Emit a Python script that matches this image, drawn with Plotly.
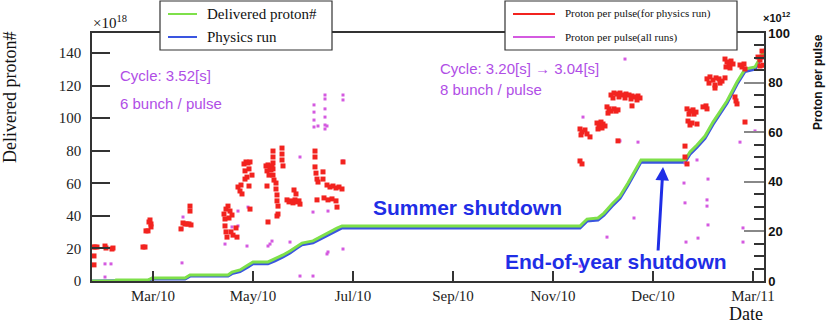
import plotly.graph_objects as go

# ---------------- data ----------------
tick_days = [0, 60, 120, 180, 240, 300, 360]
tick_labels = ["Mar/10", "May/10", "Jul/10", "Sep/10", "Nov/10", "Dec/10", "Mar/11"]

cum_days = [-36.6, -23.4, -22.2, -3, -0.6, 19.2, 22.2, 45, 47.4, 52.2, 57, 60, 69, 73.2, 78,
            82.2, 86.4, 89.4, 96, 100.2, 106.2, 110.4, 113.4, 256.2, 258, 260.4, 267, 270.6,
            275.4, 280.2, 285, 289.8, 292.8, 319.2, 322.2, 326.4, 331.2, 336, 340.2, 344.4,
            350.4, 355.2, 361.2, 364.2, 366.6]
delivered = [0, 0, 0.6, 0.6, 1.8, 1.8, 3.7, 3.7, 5.5, 6.8, 9.8, 11.7, 11.7, 13.5, 16, 18.4,
             21.5, 23.3, 24.6, 27, 30, 32.5, 33.8, 33.8, 35.6, 38, 38.7, 41.7, 47.3, 52.2, 60.2,
             68.8, 74.3, 74.3, 79.2, 83.5, 89, 97.6, 103.7, 110.5, 122.2, 130.1, 131.4, 136.9,
             141.2]
physics = [0, 0, 0.3, 0.3, 1.3, 1.3, 3.0, 3.0, 4.5, 5.8, 8.6, 10.6, 10.6, 12.3, 14.8, 17.2,
           20.2, 22.2, 23.5, 25.7, 28.8, 31.3, 32.6, 32.6, 34.4, 36.8, 37.5, 40.4, 45.9, 50.8,
           58.8, 67.3, 73.0, 73.0, 77.8, 82.1, 87.6, 96.1, 102.3, 109.1, 120.8, 128.7, 130.1,
           135.5, 139.8]

ppp_phys_days = [
    -36.0, -35.4, -35.4, -34.8, -33.6, -28.8, -28.2, -24.6, -24.0,
    -6.0, -4.8, -4.2, -3.0, -2.4, -1.8, -1.2, -1.2,
    16.8, 18.0, 19.2, 20.4, 21.6, 22.8, 22.2, 22.2,
    42.6, 43.8, 45.0, 46.2, 47.4, 43.2, 45.6, 43.2, 43.8, 44.4, 46.8, 48.0, 49.8, 50.4,
    51.0, 52.2, 53.4, 52.8, 54.6, 55.8, 57.0, 58.2, 55.2, 56.4, 57.6, 55.2, 57.6, 58.2, 59.4,
    67.8, 69.0, 70.2, 71.4, 68.4, 69.6, 70.8, 68.4, 72.0, 72.0, 72.0, 72.0, 72.0, 72.6,
    73.8, 73.8, 74.4, 74.4, 75.0, 77.4, 77.4, 77.4, 78.0,
    80.4, 81.6, 82.8, 84.0, 85.2, 86.4, 87.6, 88.2, 84.6, 85.8, 69.0, 74.4, 75.0,
    97.2, 97.2, 97.2, 97.8, 98.4, 99.0, 102.0, 102.0,
    104.4, 106.2, 108.0, 109.8, 111.6, 113.4, 98.4, 102.6, 105.0, 107.4, 109.8, 110.4, 114.0,
    256.2, 257.4, 256.2, 257.4, 259.2, 260.4, 256.8, 262.2,
    266.4, 267.6, 268.8, 270.0, 271.2, 267.0, 269.4, 272.4, 273.6, 274.8, 273.0,
    276.6, 277.8, 279.0,
    274.8, 276.6, 278.4, 280.2, 282.0, 283.8, 285.6, 287.4, 289.2, 291.0, 292.2,
    276.0, 279.6, 283.2, 286.8, 290.4, 287.4, 279.0,
    319.2, 319.2, 320.4, 320.4, 322.2, 324.0, 325.8, 321.6, 324.6, 330.0, 331.8, 332.4,
    321.0, 322.2, 323.4, 326.4,
    332.4, 334.2, 336.0, 337.8, 339.6, 341.4, 343.2, 333.6, 337.2, 340.2, 337.2,
    343.2, 344.4, 345.6, 346.8, 348.0, 343.8, 346.2,
    352.2, 353.4, 354.6, 355.2, 349.2, 349.8, 350.4, 355.2,
    363.0, 364.2, 365.4, 366.0, 364.2, 365.4]
ppp_phys_vals = [
    13.7, 10.1, 6.5, 13.7, 13.7, 14.1, 13.3, 12.9, 13.3,
    13.7, 13.7, 20.2, 20.2, 23.8, 24.6, 23.0, 21.8,
    21.0, 23.4, 23.0, 23.0, 23.0, 22.6, 28.2, 30.2,
    27.0, 29.0, 30.2, 28.2, 26.6, 25.0, 25.4, 22.2, 19.8, 17.7, 19.8, 18.5, 21.4, 17.7,
    37.9, 36.3, 35.1, 38.7, 47.2, 48.0, 47.6, 48.0, 44.4, 41.9, 45.2, 41.1, 38.3, 29.0, 42.7,
    46.4, 46.8, 46.0, 46.4, 44.4, 42.7, 44.8, 38.3, 52.4, 50.0, 47.6, 45.2, 42.7, 40.7,
    39.5, 37.1, 34.7, 32.3, 30.2, 53.6, 51.2, 48.8, 46.4,
    32.7, 31.9, 32.3, 31.5, 32.7, 31.9, 32.3, 31.0, 36.7, 35.1, 23.8, 26.2, 27.0,
    52.4, 50.0, 46.0, 43.5, 41.1, 39.9, 44.0, 41.1,
    38.7, 37.9, 38.3, 37.5, 37.9, 37.1, 32.7, 33.5, 32.7, 33.1, 32.3, 29.8, 48.0,
    48.4, 47.2, 61.3, 60.1, 60.9, 59.3, 58.9, 58.1,
    63.7, 62.9, 64.1, 63.3, 62.5, 61.3, 61.7, 70.2, 69.4, 68.5, 67.7,
    69.4, 68.5, 69.0,
    75.0, 75.8, 75.4, 75.8, 75.0, 75.4, 75.0, 74.6, 74.2, 74.6, 73.8,
    73.8, 74.2, 73.8, 73.4, 73.0, 70.6, 56.5,
    54.4, 50.0, 47.2, 69.4, 68.5, 69.0, 68.1, 67.3, 67.3, 70.2, 70.6, 69.4,
    64.5, 62.9, 63.7, 63.3,
    81.5, 82.3, 81.0, 81.9, 81.5, 80.6, 81.9, 79.8, 79.0, 79.8, 77.8,
    89.5, 88.3, 87.1, 88.7, 87.5, 86.3, 85.9,
    87.1, 86.3, 87.5, 85.5, 74.2, 72.6, 71.4, 64.1,
    90.3, 89.1, 90.3, 87.0, 86.7, 92.7]

ppp_all_days = [
    -28.8, -25.2, -28.8, 17.4, 17.4, 18.0,
    43.2, 56.4, 71.4, 69.0, 47.4, 51.0, 57.0,
    96.6, 96.6, 96.6, 96.6, 103.2, 103.2, 103.2, 103.2, 103.2, 103.2, 114.0, 114.0, 104.4, 99.0,
    88.2, 114.0, 82.2, 70.2, 88.2, 105.0, 114.0, 96.0, 105.0, 51.0, 96.0, 104.4,
    258.0, 283.2, 256.2, 272.4, 288.6, 280.2, 291.0,
    318.6, 319.2, 319.8, 326.4, 327.0, 332.4, 332.4, 333.0, 333.0, 354.0, 354.0, 352.2, 361.2,
    319.2]
ppp_all_vals = [
    6.9, 6.9, 1.6, 7.3, 21.0, 25.8,
    14.9, 14.1, 16.1, 14.1, 21.8, 28.2, 29.8,
    71.0, 68.1, 64.9, 62.1, 75.0, 73.4, 69.4, 66.1, 62.9, 61.3, 75.0, 73.0, 62.5, 62.5,
    50.0, 48.4, 15.7, 14.9, 2.0, 11.7, 12.9, 27.8, 28.2, 22.2, 2.0, 10.9,
    66.1, 89.5, 6.0, 17.7, 25.4, 56.5, 56.0,
    39.5, 31.5, 15.7, 48.8, 17.3, 32.7, 30.2, 41.1, 22.6, 21.4, 15.7, 56.0, 60.5,
    47.6]

# ---------------- styles ----------------
GREEN = "#7ee04a"
BLUE_LINE = "#3a55e0"
RED = "#f2231f"
PINK = "#d45ae0"
VIOLET_TXT = "#b04ee6"
BLUE_TXT = "#1f2ee6"
AX = "#333333"
SERIF = "Liberation Serif, Times New Roman, serif"
SANS = "Liberation Sans, Arial, sans-serif"

W, H = 827, 326
L, R, T, B = 92, 63, 33, 45
PW, PH = W - L - R, H - T - B


def px(xp):
    return (xp - L) / PW


def py(yp):
    return (H - B - yp) / PH


fig = go.Figure()

fig.add_trace(go.Scatter(x=ppp_all_days, y=ppp_all_vals, yaxis="y2", mode="markers",
                         marker=dict(symbol="square", size=3, color=PINK),
                         name="Proton per pulse(all runs)", showlegend=False))
fig.add_trace(go.Scatter(x=ppp_phys_days, y=ppp_phys_vals, yaxis="y2", mode="markers",
                         marker=dict(symbol="square", size=5, color=RED),
                         name="Proton per pulse(for physics run)", showlegend=False))
fig.add_trace(go.Scatter(x=cum_days, y=physics, mode="lines",
                         line=dict(color=BLUE_LINE, width=3),
                         name="Physics run", showlegend=False))
fig.add_trace(go.Scatter(x=cum_days, y=delivered, mode="lines",
                         line=dict(color=GREEN, width=3),
                         name="Delivered proton#", showlegend=False))

shapes = []
annotations = []

# legend boxes (drawn manually to match the two ROOT legend panes)
for x0, x1 in [(160, 332), (505, 737)]:
    shapes.append(dict(type="rect", xref="paper", yref="paper",
                       x0=px(x0), x1=px(x1), y0=py(50), y1=py(1),
                       fillcolor="white", line=dict(color=AX, width=1.2), layer="above"))
legend_rows = [
    (168, 197, 14, GREEN, "Delivered proton#", 205, 15),
    (168, 197, 37, BLUE_LINE, "Physics run", 205, 15),
    (513, 555, 14, RED, "Proton per pulse(for physics run)", 563, 11),
    (513, 555, 37, PINK, "Proton per pulse(all runs)", 563, 11),
]
for x0, x1, yy, col, label, tx, fs in legend_rows:
    shapes.append(dict(type="line", xref="paper", yref="paper",
                       x0=px(x0), x1=px(x1), y0=py(yy), y1=py(yy),
                       line=dict(color=col, width=2), layer="above"))
    annotations.append(dict(xref="paper", yref="paper", x=px(tx), y=py(yy), text=label,
                            showarrow=False, xanchor="left", yanchor="middle",
                            font=dict(family=SERIF, size=fs, color="#111")))

# text annotations
for txt, xx, yy in [("Cycle: 3.52[s]", 118, 76), ("6 bunch / pulse", 118, 104),
                    ("Cycle: 3.20[s] \u2192 3.04[s]", 438, 68), ("8 bunch / pulse", 438, 89)]:
    annotations.append(dict(xref="paper", yref="paper", x=px(xx), y=py(yy), text=txt,
                            showarrow=False, xanchor="left", yanchor="middle",
                            font=dict(family=SANS, size=15, color=VIOLET_TXT)))
for txt, xx, yy in [("Summer shutdown", 467, 208), ("End-of-year shutdown", 616, 261)]:
    annotations.append(dict(xref="paper", yref="paper", x=px(xx), y=py(yy),
                            text="<b>" + txt + "</b>", showarrow=False,
                            xanchor="center", yanchor="middle",
                            font=dict(family=SANS, size=21, color=BLUE_TXT)))
# arrow for end-of-year shutdown
annotations.append(dict(xref="paper", yref="paper", x=px(663), y=py(167), text="",
                        showarrow=True, axref="pixel", ayref="pixel", ax=-5, ay=85,
                        arrowhead=2, arrowsize=0.9, arrowwidth=3, arrowcolor=BLUE_TXT))

# axis titles & exponents
annotations += [
    dict(xref="paper", yref="paper", x=px(10), y=py(98), text="Delivered proton#",
         textangle=-90, showarrow=False, xanchor="center", yanchor="middle",
         font=dict(family=SERIF, size=18, color="#111")),
    dict(xref="paper", yref="paper", x=px(818), y=py(82), text="<b>Proton per pulse</b>",
         textangle=-90, showarrow=False, xanchor="center", yanchor="middle",
         font=dict(family=SANS, size=12, color="#111")),
    dict(xref="paper", yref="paper", x=px(746), y=py(314), text="Date",
         showarrow=False, xanchor="center", yanchor="middle",
         font=dict(family=SERIF, size=18, color="#111")),
    dict(xref="paper", yref="paper", x=px(91), y=py(22), text="\u00d710<sup>18</sup>",
         showarrow=False, xanchor="left", yanchor="middle",
         font=dict(family=SERIF, size=15, color="#111")),
    dict(xref="paper", yref="paper", x=px(761), y=py(17), text="<b>\u00d710<sup>12</sup></b>",
         showarrow=False, xanchor="left", yanchor="middle",
         font=dict(family=SANS, size=11, color="#111")),
]

fig.update_layout(
    width=W, height=H,
    margin=dict(l=L, r=R, t=T, b=B, pad=0),
    paper_bgcolor="white", plot_bgcolor="white",
    showlegend=False,
    shapes=shapes, annotations=annotations,
    xaxis=dict(range=[-36.6, 366.6], tickvals=tick_days, ticktext=tick_labels,
               ticks="inside", ticklen=10, tickwidth=1.5, tickcolor=AX,
               showline=True, linecolor=AX, linewidth=1.5, mirror=True,
               showgrid=False, zeroline=False,
               tickfont=dict(family=SERIF, size=15, color="#222")),
    yaxis=dict(range=[0, 152.3], tickvals=[0, 20, 40, 60, 80, 100, 120, 140],
               ticks="inside", ticklen=18, tickwidth=1.5, tickcolor=AX,
               showline=True, linecolor=AX, linewidth=1.5,
               showgrid=False, zeroline=False, ticklabelstandoff=6,
               tickfont=dict(family=SERIF, size=15, color="#222")),
    yaxis2=dict(range=[0, 100], overlaying="y", side="right", dtick=20,
                ticks="inside", ticklen=20, tickwidth=1.5, tickcolor="#888",
                minor=dict(dtick=5, ticks="inside", ticklen=10, tickcolor=AX, tickwidth=1.5),
                showline=True, linecolor=AX, linewidth=1.5,
                showgrid=False, zeroline=False,
                tickfont=dict(family=SANS, size=13, color="#111", weight="bold")),
)

fig.write_html("out.html", config={"displayModeBar": False},
               post_script="document.body.style.margin='0';document.body.style.overflow='hidden';")
